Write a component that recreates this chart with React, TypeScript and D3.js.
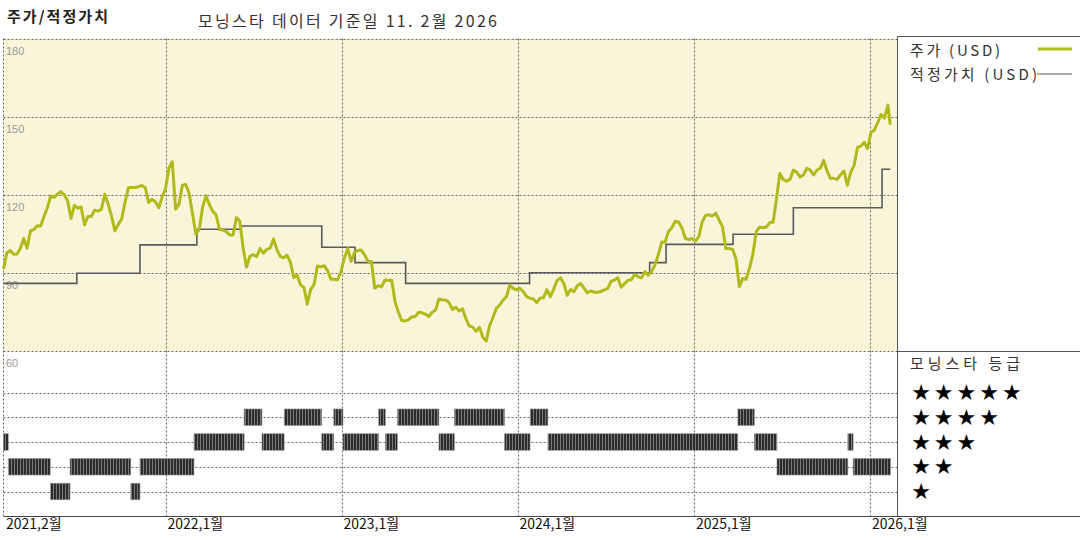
import React from 'react';
import * as d3 from 'd3';

// ---------- DATA ----------
const priceStart = '2021-01-29';
// weekly closes (USD)
const priceWeekly = [
  91.5, 97.8, 98.6, 97.2, 97.3, 99.5, 103.3, 99.6, 106.3, 106.7,
  108.2, 108.1, 111.7, 115.1, 119.6, 119.1, 120.3, 121.3, 120.1, 117.7,
  111.0, 116.0, 115.0, 115.4, 108.5, 111.7, 111.7, 114.2, 113.8, 114.5,
  120.3, 116.5, 111.9, 106.2, 108.7, 110.8, 117.1, 122.8, 122.9, 122.9,
  123.2, 123.7, 122.8, 117.1, 118.3, 117.3, 115.1, 119.4, 122.4, 130.3,
  132.8, 114.5, 116.5, 123.8, 124.0, 120.6, 112.8, 104.9, 106.9, 115.4,
  119.7, 116.3, 113.7, 112.3, 106.7, 106.5, 105.9, 104.6, 104.6, 111.3,
  110.0, 99.5, 92.3, 96.4, 97.1, 96.3, 99.4, 97.6, 99.1, 99.6,
  103.1, 99.0, 96.4, 95.8, 96.9, 94.1, 88.3, 89.2, 85.4, 84.5,
  78.0, 83.7, 85.5, 92.7, 92.4, 92.8, 90.9, 87.6, 87.6, 87.4,
  90.7, 95.8, 99.4, 94.4, 98.0, 98.7, 98.8, 96.9, 94.4, 94.4,
  84.1, 85.1, 84.7, 87.3, 87.1, 87.2, 79.0, 74.9, 71.7, 71.5,
  72.1, 73.1, 73.3, 74.9, 74.7, 74.2, 73.2, 74.9, 75.8, 80.0,
  79.6, 79.6, 78.6, 76.0, 76.8, 75.4, 76.2, 72.4, 69.6, 69.2,
  67.6, 69.1, 65.3, 63.8, 69.7, 72.9, 76.3, 77.7, 79.6, 80.9,
  85.4, 84.1, 83.5, 84.1, 82.8, 80.9, 80.3, 80.0, 78.6, 80.4,
  80.5, 83.6, 80.9, 83.8, 87.1, 88.2, 86.0, 81.4, 83.7, 82.8,
  85.1, 86.0, 84.1, 82.4, 83.1, 82.6, 82.6, 82.9, 83.5, 84.0,
  86.8, 87.3, 88.2, 84.5, 85.9, 87.2, 87.4, 89.4, 88.6, 88.1,
  90.5, 89.2, 90.5, 93.1, 97.1, 101.9, 101.8, 106.0, 107.4, 109.9,
  109.6, 107.3, 103.3, 102.8, 103.3, 102.3, 104.0, 109.7, 112.1, 112.4,
  111.9, 113.0, 110.4, 107.8, 99.4, 99.4, 99.1, 95.5, 84.7, 87.9,
  87.6, 91.8, 97.2, 105.9, 107.6, 107.4, 107.7, 109.4, 109.5, 118.5,
  128.3, 126.0, 125.3, 126.0, 129.6, 128.8, 126.9, 127.7, 130.3, 129.6,
  127.7, 129.6, 130.3, 133.3, 129.2, 126.4, 126.4, 126.0, 127.8, 129.2,
  123.8, 128.7, 131.4, 138.3, 138.8, 140.3, 137.9, 144.0, 145.0, 147.8,
  151.0, 149.6, 154.6,
];
const lastCloseDate = '2026-02-11';
const lastCloseValue = 147.0;

// fair value (step line)
const fairDates = [
  '2021-01-29', '2021-06-30', '2021-11-08', '2022-03-06', '2022-06-05', '2022-11-20',
  '2023-01-28', '2023-05-13', '2024-01-25', '2024-09-30', '2024-11-03', '2025-03-22',
  '2025-07-25', '2026-01-25',
];
const fairValues = [86.0, 89.9, 100.8, 106.8, 108.1, 99.9, 94.0, 86.0, 90.1, 94.0, 101.0, 104.9, 115.1, 129.9];
const fairEndDate = '2026-02-11';

// morningstar rating segments
const ratingStarts = [
  '2021-01-29', '2021-02-08', '2021-05-06', '2021-06-16', '2021-10-20', '2021-11-08',
  '2022-02-28', '2022-06-12', '2022-07-19', '2022-09-03', '2022-11-20', '2022-12-15',
  '2023-01-03', '2023-03-18', '2023-04-01', '2023-04-26', '2023-07-21', '2023-08-22',
  '2023-12-04', '2024-01-26', '2024-03-03', '2025-04-01', '2025-05-05', '2025-06-21',
  '2025-11-15', '2025-11-26',
];
const ratingValues = [3, 2, 1, 2, 1, 2, 3, 4, 3, 4, 3, 4, 3, 4, 3, 4, 3, 4, 3, 4, 3, 4, 3, 2, 3, 2];
const ratingEndDate = '2026-02-12';

const priceTicks = [180, 150, 120, 90, 60];
const yearTicks = ['2022-01-01', '2023-01-01', '2024-01-01', '2025-01-01', '2026-01-01'];
const dateLabels = ['2021,2월', '2022,1월', '2023,1월', '2024,1월', '2025,1월', '2026,1월'];
const ratingRows = [5, 4, 3, 2, 1];

const titleLeft = '주가/적정가치';
const titleRight = '모닝스타 데이터 기준일 11. 2월 2026';
const legendPrice = '주가 (USD)';
const legendFair = '적정가치 (USD)';
const legendRating = '모닝스타 등급';

// ---------- CHART ----------
const parse = d3.timeParse('%Y-%m-%d');
const KR = '"Noto Sans CJK KR", "Noto Sans", sans-serif';

export default function App() {
  const W = 1080;
  const H = 540;
  const left = 3.5;
  const right = 897.5;
  const top = 38.5;
  const priceBottom = 351;
  const axisY = 516;

  const x = d3.scaleTime().domain([parse('2021-01-29')!, parse('2026-02-26')!]).range([left, right]);
  const y = d3.scaleLinear().domain([60, 180]).range([priceBottom, 39]);
  const yr = d3.scaleLinear().domain([5, 1]).range([392.5, 491.5]);

  const start = parse(priceStart)!;
  const pricePts = priceWeekly.map((v, i) => ({ date: d3.timeDay.offset(start, 7 * i), value: v }));
  pricePts.push({ date: parse(lastCloseDate)!, value: lastCloseValue });

  const fairPts = fairDates.map((d, i) => ({ date: parse(d)!, value: fairValues[i] }));
  fairPts.push({ date: parse(fairEndDate)!, value: fairValues[fairValues.length - 1] });

  const priceLine = d3.line<{ date: Date; value: number }>().x(d => x(d.date)).y(d => y(d.value));
  const fairLine = d3
    .line<{ date: Date; value: number }>()
    .x(d => x(d.date))
    .y(d => y(d.value))
    .curve(d3.curveStepAfter);

  const segs = ratingStarts.map((s, i) => ({
    start: parse(s)!,
    end: parse(i + 1 < ratingStarts.length ? ratingStarts[i + 1] : ratingEndDate)!,
    r: ratingValues[i],
  }));

  const dash = { stroke: '#666', strokeWidth: 1, strokeDasharray: '2,2', fill: 'none' } as const;
  const solid = { stroke: '#555', strokeWidth: 1, fill: 'none' } as const;

  const labelXs = [parse('2021-01-29')!, ...yearTicks.map(d => parse(d)!)];

  return (
    <svg width={W} height={H} style={{ position: 'absolute', left: 0, top: 0, background: '#fff' }}>
      <defs>
        <pattern id="stripes" width="3" height="20" patternUnits="userSpaceOnUse">
          <rect width="3" height="20" fill="#7a7a7a" />
          <rect width="2" height="20" fill="#2c2c2c" />
        </pattern>
      </defs>

      {/* titles */}
      <text x={7} y={22} fontFamily={KR} fontSize={15} fontWeight="bold" fill="#222" textLength={101} lengthAdjust="spacing">
        {titleLeft}
      </text>
      <text x={198} y={27} fontFamily={KR} fontSize={16} fill="#333" textLength={299} lengthAdjust="spacing">
        {titleRight}
      </text>

      {/* price panel background */}
      <rect x={left} y={top} width={right - left} height={priceBottom - top} fill="#f9f5d9" />

      {/* horizontal grid (price) */}
      {priceTicks.map(v => (
        <line key={'h' + v} x1={left} x2={right} y1={Math.round(y(v)) + 0.5} y2={Math.round(y(v)) + 0.5} {...dash} />
      ))}
      {/* horizontal grid (rating) */}
      {ratingRows.map(r => (
        <line key={'r' + r} x1={left} x2={right} y1={Math.round(yr(r)) + 0.5} y2={Math.round(yr(r)) + 0.5} {...dash} />
      ))}
      {/* vertical grid */}
      {yearTicks.map(d => {
        const xx = Math.round(x(parse(d)!)) + 0.5;
        return <line key={'v' + d} x1={xx} x2={xx} y1={top} y2={axisY} {...dash} />;
      })}
      <line x1={left} x2={left} y1={top} y2={axisY} {...dash} />

      {/* price tick labels */}
      {priceTicks.map(v => (
        <text key={'t' + v} x={6} y={y(v) + 16} fontFamily="Liberation Sans, Arial, sans-serif" fontSize={11} fill="#999">
          {v}
        </text>
      ))}

      {/* fair value */}
      <path d={fairLine(fairPts) || ''} fill="none" stroke="#5a5a5a" strokeWidth={1.6} />
      {/* price */}
      <path d={priceLine(pricePts) || ''} fill="none" stroke="#b1ba1c" strokeWidth={3} strokeLinejoin="round" />

      {/* rating bars */}
      {segs.map((s, i) => (
        <rect
          key={'s' + i}
          x={x(s.start)}
          y={yr(s.r) - 8.3}
          width={Math.max(1, x(s.end) - x(s.start))}
          height={16.6}
          fill="url(#stripes)"
          stroke="#999"
          strokeWidth={0.6}
        />
      ))}

      {/* frame lines */}
      <line x1={right} x2={right} y1={36.5} y2={axisY} {...solid} />
      <line x1={right} x2={W} y1={36.5} y2={36.5} {...solid} />
      <line x1={right} x2={W} y1={351.5} y2={351.5} {...solid} />
      <line x1={left} x2={W} y1={axisY + 0.5} y2={axisY + 0.5} stroke="#444" strokeWidth={1.2} />

      {/* date labels */}
      {dateLabels.map((t, i) => (
        <text key={'d' + i} x={x(labelXs[i]) + (i === 0 ? 2.5 : 1.5)} y={528.5} fontFamily={KR} fontSize={14} fill="#111">
          {t}
        </text>
      ))}

      {/* legend */}
      <text x={910} y={56} fontFamily={KR} fontSize={15} fill="#333" textLength={90} lengthAdjust="spacing">
        {legendPrice}
      </text>
      <line x1={1038} x2={1072} y1={49} y2={49} stroke="#b1ba1c" strokeWidth={3} />
      <text x={910} y={80} fontFamily={KR} fontSize={15} fill="#333" textLength={127} lengthAdjust="spacing">
        {legendFair}
      </text>
      <line x1={1037} x2={1072} y1={74} y2={74} stroke="#5a5a5a" strokeWidth={1.2} />

      <text x={910} y={368.5} fontFamily={KR} fontSize={15} fill="#333" textLength={110} lengthAdjust="spacing">
        {legendRating}
      </text>
      {ratingRows.map(r => (
        <text key={'st' + r} y={yr(r) + 7.5} fontFamily="DejaVu Sans, sans-serif" fontSize={22} fill="#000" textAnchor="middle">
          {d3.range(r).map(k => (
            <tspan key={k} x={921 + k * 22.7}>
              ★
            </tspan>
          ))}
        </text>
      ))}
    </svg>
  );
}
